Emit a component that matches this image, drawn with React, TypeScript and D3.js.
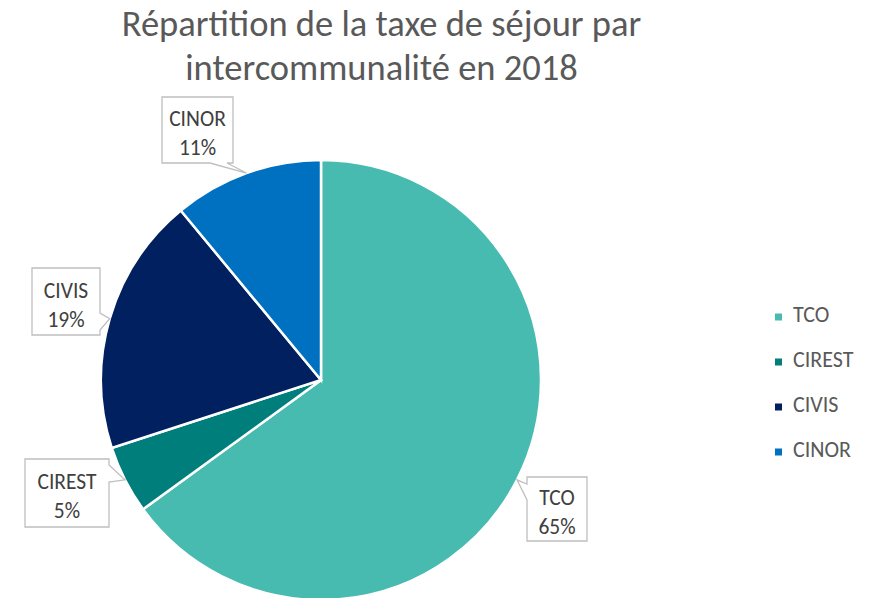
import React from 'react';
import * as d3 from 'd3';

const categories = ['TCO', 'CIREST', 'CIVIS', 'CINOR'];
const shares = [65, 5, 19, 11];
const colors = ['#47BBB0', '#007E7B', '#002060', '#0070C0'];
const titleLines = ['Répartition de la taxe de séjour par', 'intercommunalité en 2018'];

// callout boxes: box rect + side where the pointer leaves
const callouts: Record<string, { x: number; y: number; w: number; h: number; side: string; b0: number; b1: number }> = {
  TCO: { x: 527, y: 477, w: 60, h: 64, side: 'left', b0: 484, b1: 500 },
  CIREST: { x: 25, y: 459, w: 84, h: 68, side: 'right', b0: 465, b1: 482 },
  CIVIS: { x: 32, y: 268, w: 68, h: 67, side: 'right', b0: 313, b1: 330 },
  CINOR: { x: 162, y: 97, w: 71, h: 66, side: 'bottom', b0: 210, b1: 227 },
};

const calloutPath = (c: typeof callouts.TCO, tx: number, ty: number) => {
  const x0 = c.x, y0 = c.y, x1 = c.x + c.w, y1 = c.y + c.h;
  if (c.side === 'left')
    return `M${x0},${y0}H${x1}V${y1}H${x0}V${c.b1}L${tx},${ty}L${x0},${c.b0}Z`;
  if (c.side === 'right')
    return `M${x0},${y0}H${x1}V${c.b0}L${tx},${ty}L${x1},${c.b1}V${y1}H${x0}Z`;
  return `M${x0},${y0}H${x1}V${y1}H${c.b1}L${tx},${ty}L${c.b0},${y1}H${x0}Z`;
};

export default function App() {
  const width = 875;
  const height = 598;
  const cx = 321;
  const cy = 380;
  const r = 220;

  const data = categories.map((name, i) => ({ name, value: shares[i], color: colors[i] }));
  const pie = d3.pie<any>().sort(null).value(d => d.value);
  const arcs = pie(data);
  const arc = d3.arc<any>().innerRadius(0).outerRadius(r);

  const legendY = d3.scalePoint<string>().domain(categories).range([322, 457]);
  const font = 'Calibri, Carlito, Lato, sans-serif';

  return (
    <svg width={width} height={height} style={{ position: 'absolute', left: 0, top: 0, background: '#fff' }}>
      {titleLines.map((t, i) => (
        <text key={i} x={381.5} y={36 + i * 44} textAnchor="middle" fontFamily={font} fontSize={36.5} fill="#595959">
          {t}
        </text>
      ))}

      <g transform={`translate(${cx},${cy})`}>
        {arcs.map(a => (
          <path key={a.data.name} d={arc(a) as string} fill={a.data.color} stroke="#fff" strokeWidth={2.5} />
        ))}
      </g>

      {arcs.map(a => {
        const mid = (a.startAngle + a.endAngle) / 2;
        const tx = cx + r * Math.sin(mid);
        const ty = cy - r * Math.cos(mid);
        const c = callouts[a.data.name];
        return (
          <g key={`lab-${a.data.name}`}>
            <path d={calloutPath(c, tx, ty)} fill="#fff" stroke="#BFBFBF" strokeWidth={1.3} />
            <text x={c.x + c.w / 2} y={c.y + c.h / 2 - 4} textAnchor="middle" fontFamily={font} fontSize={21.5} fill="#404040">
              {a.data.name}
            </text>
            <text x={c.x + c.w / 2} y={c.y + c.h / 2 + 25} textAnchor="middle" fontFamily={font} fontSize={21.5} fill="#404040">
              {`${a.data.value}%`}
            </text>
          </g>
        );
      })}

      {data.map(d => (
        <g key={`leg-${d.name}`}>
          <rect x={775} y={(legendY(d.name) as number) - 8.5} width={7} height={7} fill={d.color} />
          <text x={793} y={legendY(d.name) as number} fontFamily={font} fontSize={22} fill="#595959">
            {d.name}
          </text>
        </g>
      ))}
    </svg>
  );
}
